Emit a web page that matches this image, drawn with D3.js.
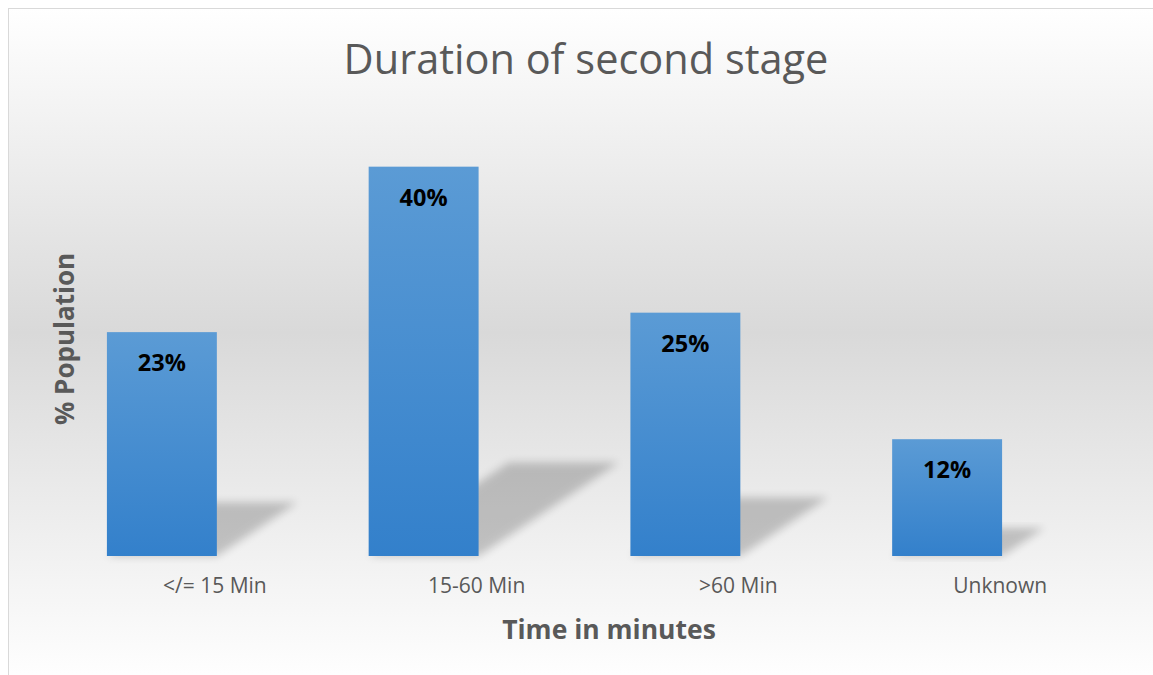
<!DOCTYPE html>
<html>
<head>
<meta charset="utf-8">
<script src="https://cdn.jsdelivr.net/npm/d3@7"></script>
<style>
  html, body { margin: 0; padding: 0; background: #fff; overflow: hidden; }
  svg { display: block; }
</style>
</head>
<body>
<svg id="chart" width="1153" height="675"></svg>
<script>
// Chart data
const categories = ["</= 15 Min", "15-60 Min", ">60 Min", "Unknown"];
const shares = [23, 40, 25, 12];
const labels = ["23%", "40%", "25%", "12%"];

const W = 1153, H = 675;
const baseY = 556;

const svg = d3.select("#chart");
const defs = svg.append("defs");

// Background: white -> grey -> white, vertical
const bg = defs.append("linearGradient")
  .attr("id", "bgGrad").attr("x1", 0).attr("y1", 0).attr("x2", 0).attr("y2", 1);
bg.append("stop").attr("offset", "0%").attr("stop-color", "#ffffff");
bg.append("stop").attr("offset", "48%").attr("stop-color", "#d9d9d9");
bg.append("stop").attr("offset", "100%").attr("stop-color", "#ffffff");

// Bar fill: lighter blue on top, deeper at the base
const barGrad = defs.append("linearGradient")
  .attr("id", "barGrad").attr("x1", 0).attr("y1", 0).attr("x2", 0).attr("y2", 1);
barGrad.append("stop").attr("offset", "0%").attr("stop-color", "#5b9bd5");
barGrad.append("stop").attr("offset", "100%").attr("stop-color", "#3380cb");

defs.append("filter")
  .attr("id", "blur").attr("x", "-20%").attr("y", "-20%").attr("width", "140%").attr("height", "140%")
  .append("feGaussianBlur").attr("stdDeviation", 4);

svg.append("rect")
  .attr("x", 8.5).attr("y", 8.5)
  .attr("width", W).attr("height", H)
  .attr("fill", "url(#bgGrad)")
  .attr("stroke", "#d9d9d9").attr("stroke-width", 1);

const x = d3.scaleBand()
  .domain(categories)
  .range([31, 1078])
  .paddingInner(0.58)
  .paddingOuter(0.29);

const y = d3.scaleLinear()
  .domain([0, 45])
  .range([baseY, 118]);

const rows = categories.map((c, i) => ({ cat: c, v: shares[i], label: labels[i] }));

// Skewed ground shadows behind the bars
svg.append("g")
  .selectAll("path")
  .data(rows)
  .join("path")
  .attr("d", d => {
    const h = baseY - y(d.v);
    const x0 = x(d.cat), x1 = x0 + x.bandwidth();
    const dx = 0.36 * h, dy = 0.24 * h;
    return "M" + x0 + "," + baseY + "L" + x1 + "," + baseY +
      "L" + (x1 + dx) + "," + (baseY - dy) + "L" + (x0 + dx) + "," + (baseY - dy) + "Z";
  })
  .attr("fill", "#000")
  .attr("opacity", 0.2)
  .attr("filter", "url(#blur)");

svg.append("g")
  .selectAll("rect")
  .data(rows)
  .join("rect")
  .attr("x", d => x(d.cat))
  .attr("y", d => y(d.v))
  .attr("width", x.bandwidth())
  .attr("height", d => baseY - y(d.v))
  .attr("fill", "url(#barGrad)");

svg.append("g")
  .selectAll("text")
  .data(rows)
  .join("text")
  .attr("x", d => x(d.cat) + x.bandwidth() / 2)
  .attr("y", d => y(d.v) + 39)
  .attr("text-anchor", "middle")
  .attr("font-family", "'Open Sans', sans-serif")
  .attr("font-weight", 700)
  .attr("font-size", 23.5)
  .attr("fill", "#000")
  .text(d => d.label);

// Category axis (labels sit a little right of the bars, as in the original)
const axis = svg.append("g")
  .attr("transform", "translate(53," + baseY + ")")
  .call(d3.axisBottom(x).tickSize(0).tickPadding(22));
axis.select(".domain").remove();
axis.selectAll("text")
  .attr("font-family", "'Open Sans', sans-serif")
  .attr("font-size", 21)
  .attr("fill", "#595959");

svg.append("text")
  .attr("x", 586).attr("y", 74)
  .attr("text-anchor", "middle")
  .attr("font-family", "'Open Sans', sans-serif")
  .attr("font-size", 41.5)
  .attr("fill", "#595959")
  .text("Duration of second stage");

svg.append("text")
  .attr("x", 609).attr("y", 639)
  .attr("text-anchor", "middle")
  .attr("font-family", "'Open Sans', sans-serif")
  .attr("font-weight", 700)
  .attr("font-size", 26.5)
  .attr("fill", "#595959")
  .text("Time in minutes");

svg.append("text")
  .attr("transform", "translate(74,339) rotate(-90)")
  .attr("text-anchor", "middle")
  .attr("font-family", "'Open Sans', sans-serif")
  .attr("font-weight", 700)
  .attr("font-size", 26)
  .attr("fill", "#595959")
  .text("% Population");
</script>
</body>
</html>
